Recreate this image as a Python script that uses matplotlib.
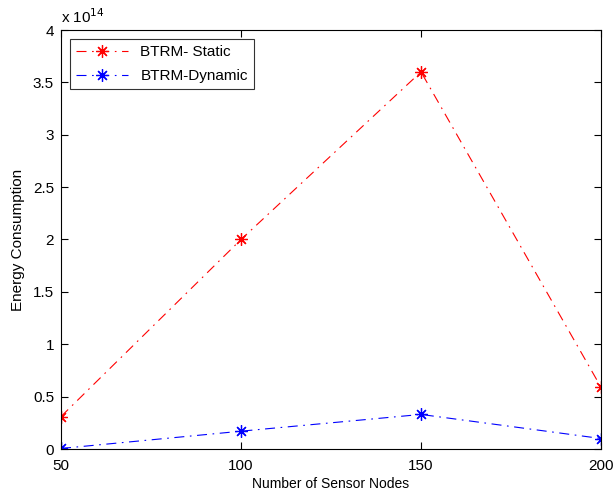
import matplotlib
matplotlib.use("Agg")
import matplotlib.pyplot as plt

plt.rcParams['font.family'] = ['Liberation Sans', 'DejaVu Sans']

# sensor node counts and energy consumption (x 1e14)
nodes = [50, 100, 150, 200]
static_energy = [0.31, 2.0, 3.6, 0.59]
dynamic_energy = [0.005, 0.17, 0.33, 0.10]

fig = plt.figure(figsize=(6.14, 4.98), dpi=100)
ax = fig.add_axes([61 / 614, 49 / 498, 540 / 614, 419 / 498])

# asterisk marker: 8 spokes
star = (8, 2, 0)
dashdot = (0, (9, 5, 1.5, 5))
ax.plot(nodes, static_energy, color='red', linestyle=dashdot, linewidth=0.8,
        marker=star, markersize=9, markeredgewidth=0.9, label='BTRM- Static')
ax.plot(nodes, dynamic_energy, color='blue', linestyle=dashdot, linewidth=0.8,
        marker=star, markersize=9, markeredgewidth=0.9, label='BTRM-Dynamic')

ax.set_xlim(50, 200)
ax.set_ylim(0, 4)
ax.set_xticks(nodes)
ax.set_yticks([0, 0.5, 1, 1.5, 2, 2.5, 3, 3.5, 4])
ax.set_yticklabels(['0', '0.5', '1', '1.5', '2', '2.5', '3', '3.5', '4'])
ax.tick_params(direction='in', top=True, right=True, labelsize=11, length=5, width=0.8)
ax.tick_params(axis='x', pad=7)
ax.tick_params(axis='y', pad=5)
for s in ax.spines.values():
    s.set_linewidth(0.8)

ax.text(0, 1.01, r'x 10$^{14}$', transform=ax.transAxes, fontsize=11, va='bottom')

ax.set_xlabel('Number of Sensor Nodes', fontsize=10, labelpad=3)
ax.set_ylabel('Energy Consumption', fontsize=11, labelpad=6)

leg = ax.legend(loc='upper left', fontsize=11, frameon=True, fancybox=False,
                edgecolor='black', borderaxespad=0.6, handlelength=3.4,
                labelspacing=0.65)
leg.get_frame().set_linewidth(0.8)

fig.savefig('out.png', dpi=100)
